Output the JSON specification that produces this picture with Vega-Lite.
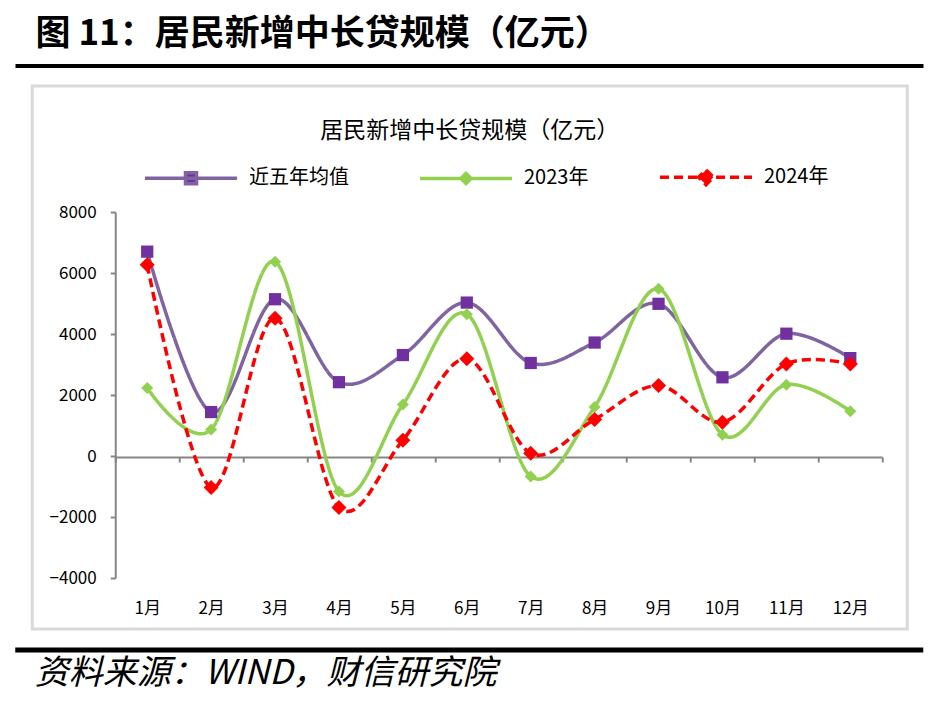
{
  "$schema": "https://vega.github.io/schema/vega-lite/v6.json",
  "background": "white",
  "padding": {"left": 12, "top": 17, "right": 10, "bottom": 4},
  "config": {"view": {"stroke": null}, "font": "Noto Sans CJK SC", "title": {"color": "black"}},
  "spacing": 16,
  "center": true,
  "vconcat": [
    {
      "width": 908,
      "height": 1,
      "data": {"values": [{"part": "heading"}]},
      "title": {"text": "图 11：居民新增中长贷规模（亿元）", "anchor": "start", "dx": 22, "fontSize": 35, "fontWeight": "bold", "font": "Noto Sans CJK SC", "offset": 12},
      "mark": {"type": "rule", "strokeWidth": 4, "color": "black"},
      "encoding": {"y": {"datum": 0, "type": "quantitative", "scale": {"domain": [0, 1]}, "axis": null}}
    },
    {
      "width": 875,
      "height": 543,
      "view": {"stroke": "#D9D9D9", "strokeWidth": 3},
      "data": {"values": [
        {"month": "1月", "m": 1, "series": "近五年均值", "value": 6700},
        {"month": "2月", "m": 2, "series": "近五年均值", "value": 1440},
        {"month": "3月", "m": 3, "series": "近五年均值", "value": 5140},
        {"month": "4月", "m": 4, "series": "近五年均值", "value": 2420},
        {"month": "5月", "m": 5, "series": "近五年均值", "value": 3310},
        {"month": "6月", "m": 6, "series": "近五年均值", "value": 5030},
        {"month": "7月", "m": 7, "series": "近五年均值", "value": 3050},
        {"month": "8月", "m": 8, "series": "近五年均值", "value": 3720},
        {"month": "9月", "m": 9, "series": "近五年均值", "value": 4990},
        {"month": "10月", "m": 10, "series": "近五年均值", "value": 2580},
        {"month": "11月", "m": 11, "series": "近五年均值", "value": 4010},
        {"month": "12月", "m": 12, "series": "近五年均值", "value": 3210},
        {"month": "1月", "m": 1, "series": "2023年", "value": 2230},
        {"month": "2月", "m": 2, "series": "2023年", "value": 870},
        {"month": "3月", "m": 3, "series": "2023年", "value": 6370},
        {"month": "4月", "m": 4, "series": "2023年", "value": -1160},
        {"month": "5月", "m": 5, "series": "2023年", "value": 1690},
        {"month": "6月", "m": 6, "series": "2023年", "value": 4650},
        {"month": "7月", "m": 7, "series": "2023年", "value": -670},
        {"month": "8月", "m": 8, "series": "2023年", "value": 1610},
        {"month": "9月", "m": 9, "series": "2023年", "value": 5480},
        {"month": "10月", "m": 10, "series": "2023年", "value": 700},
        {"month": "11月", "m": 11, "series": "2023年", "value": 2340},
        {"month": "12月", "m": 12, "series": "2023年", "value": 1470},
        {"month": "1月", "m": 1, "series": "2024年", "value": 6270},
        {"month": "2月", "m": 2, "series": "2024年", "value": -1030},
        {"month": "3月", "m": 3, "series": "2024年", "value": 4520},
        {"month": "4月", "m": 4, "series": "2024年", "value": -1690},
        {"month": "5月", "m": 5, "series": "2024年", "value": 520},
        {"month": "6月", "m": 6, "series": "2024年", "value": 3190},
        {"month": "7月", "m": 7, "series": "2024年", "value": 90},
        {"month": "8月", "m": 8, "series": "2024年", "value": 1200},
        {"month": "9月", "m": 9, "series": "2024年", "value": 2310},
        {"month": "10月", "m": 10, "series": "2024年", "value": 1110},
        {"month": "11月", "m": 11, "series": "2024年", "value": 3020},
        {"month": "12月", "m": 12, "series": "2024年", "value": 3020}
      ]},
      "title": {"text": "居民新增中长贷规模（亿元）", "frame": "group", "anchor": "middle", "offset": -57, "fontSize": 23, "fontWeight": "normal", "font": "Noto Sans CJK SC"},
      "encoding": {
        "x": {
          "field": "month", "type": "ordinal",
          "scale": {"type": "band", "domain": ["1月","2月","3月","4月","5月","6月","7月","8月","9月","10月","11月","12月"], "range": [83, 850], "paddingInner": 0, "paddingOuter": 0},
          "axis": {"orient": "bottom", "offset": -172, "tickBand": "extent", "domainColor": "#868686", "domainWidth": 2, "tickColor": "#868686", "tickWidth": 2, "tickSize": 5, "labelPadding": 138, "labelFontSize": 17, "labelFont": "Liberation Sans Narrow, Noto Sans CJK SC", "labelColor": "black", "labelAngle": 0, "title": null}
        },
        "y": {
          "field": "value", "type": "quantitative",
          "scale": {"domain": [-4000, 8000], "range": [492, 126], "nice": false, "zero": false},
          "axis": {"orient": "left", "offset": -83, "values": [-4000, -2000, 0, 2000, 4000, 6000, 8000], "format": "d", "grid": false, "domainColor": "#868686", "domainWidth": 2, "tickColor": "#868686", "tickWidth": 2, "tickSize": 5, "labelPadding": 14, "labelFontSize": 17, "labelFont": "Liberation Sans Narrow, Noto Sans CJK SC", "labelColor": "black", "title": null}
        },
        "order": {"field": "m", "type": "quantitative"}
      },
      "layer": [
        {
          "mark": {"type": "line", "interpolate": "cardinal", "strokeWidth": 3.5},
          "encoding": {
            "color": {
              "field": "series", "type": "nominal",
              "scale": {"domain": ["近五年均值", "2023年", "2024年"], "range": ["#8064A2", "#92D050", "#FF0000"]},
              "legend": {
                "orient": "none", "legendX": 128, "legendY": 64, "direction": "horizontal", "title": null,
                "columnPadding": 64, "labelOffset": 10, "labelFontSize": 20, "labelFont": "Liberation Sans Narrow, Noto Sans CJK SC", "labelColor": "black",
                "symbolStrokeWidth": 3.5, "symbolSize": 8464, "padding": 0,
                "encoding": {"symbols": {
                  "shape": {"value": {"expr": "datum.value === '近五年均值' ? 'M-1,0H1M-0.12,-0.12H0.12V0.12H-0.12Z' : datum.value === '2023年' ? 'M-1,0H1M0,-0.11L0.11,0L0,0.11L-0.11,0Z' : 'M-1,0H1M0,-0.16L0.16,0L0,0.16L-0.16,0Z'"}},
                  "fill": {"value": {"expr": "datum.value === '近五年均值' ? '#7030A0' : datum.value === '2023年' ? '#92D050' : '#FF0000'"}},
                  "size": {"value": 8464},
                  "strokeDash": {"value": {"expr": "datum.value === '2024年' ? [9, 5] : [1, 0]"}}
                }}
              }
            },
            "strokeDash": {
              "field": "series", "type": "nominal",
              "scale": {"domain": ["近五年均值", "2023年", "2024年"], "range": [[1, 0], [1, 0], [9, 5]]},
              "legend": null
            }
          }
        },
        {
          "transform": [{"filter": "datum.series === '近五年均值'"}],
          "mark": {"type": "point", "filled": true, "opacity": 1, "shape": "square", "size": 150, "color": "#7030A0", "strokeWidth": 0}
        },
        {
          "transform": [{"filter": "datum.series === '2023年'"}],
          "mark": {"type": "point", "filled": true, "opacity": 1, "shape": "diamond", "size": 144, "color": "#92D050", "strokeWidth": 0}
        },
        {
          "transform": [{"filter": "datum.series === '2024年'"}],
          "mark": {"type": "point", "filled": true, "opacity": 1, "shape": "diamond", "size": 225, "color": "#FF0000", "strokeWidth": 0}
        }
      ]
    },
    {
      "width": 908,
      "height": 1,
      "data": {"values": [{"part": "source"}]},
      "title": {"text": "资料来源：WIND，财信研究院", "orient": "bottom", "anchor": "start", "dx": 22, "fontSize": 34, "fontStyle": "italic", "fontWeight": "normal", "font": "Noto Sans CJK SC", "offset": 4},
      "mark": {"type": "rule", "strokeWidth": 5, "color": "black"},
      "encoding": {"y": {"datum": 1, "type": "quantitative", "scale": {"domain": [0, 1]}, "axis": null}}
    }
  ]
}
